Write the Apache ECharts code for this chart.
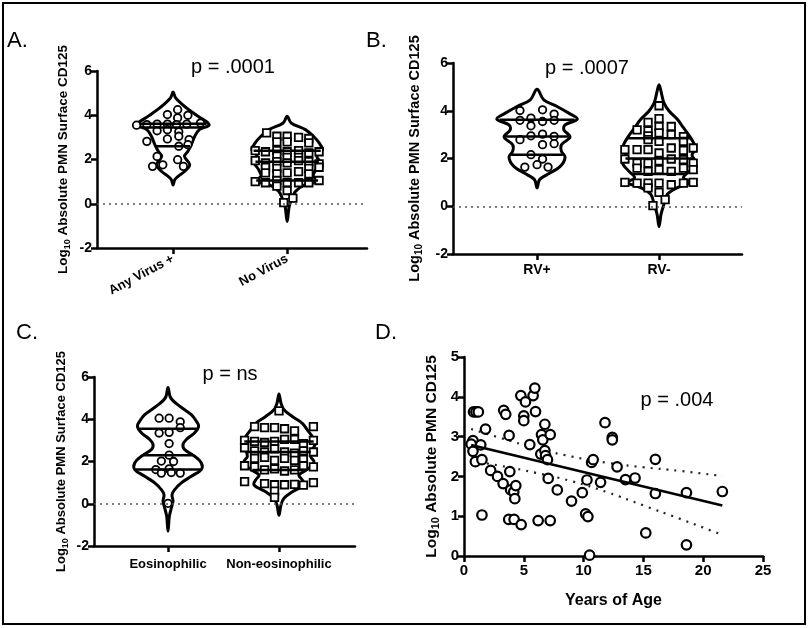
<!DOCTYPE html>
<html>
<head>
<meta charset="utf-8">
<title>PMN CD125</title>
<script src="https://cdn.jsdelivr.net/npm/echarts@6/dist/echarts.min.js"></script>
<style>
  html, body { margin: 0; padding: 0; background: #fff; }
  #main { width: 810px; height: 628px; }
</style>
</head>
<body>
<div id="main"></div>
<script>
// ---- panel A ----
var catsA = ['Any Virus +', 'No Virus'];
var anyVirusPts = [
  [-0.05,4.03],[0.04,4.25],[0.13,4.0],[0.04,3.88],
  [-0.32,3.55],[-0.23,3.58],[-0.14,3.6],[-0.05,3.6],[0.03,3.58],[0.12,3.6],[0.24,3.65],
  [-0.14,3.3],[-0.05,3.35],[0.05,3.25],
  [-0.23,2.82],[-0.05,2.93],[0.05,3.05],[0.14,2.9],
  [0.05,2.6],[0.13,2.67],
  [-0.14,2.14],[0.04,1.99],[-0.18,1.69],[-0.09,1.76],[0.09,1.69]
];
var anyVirusProfY  = [0.85,1.09,1.24,1.46,1.76,2.14,2.37,2.67,3.05,3.35,3.57,3.95,4.33,4.78,5.05];
var anyVirusProfW  = [0,0.015,0.044,0.10,0.146,0.10,0.13,0.16,0.19,0.23,0.316,0.22,0.117,0.023,0];
var anyVirusQuart  = [2.6, 3.45, 3.62];

var noVirusPts = [
  [-0.18,3.2],[-0.09,3.05],[0,3.05],[0.1,3.0],[0.19,2.95],
  [-0.09,2.8],[0,2.8],[0.19,2.75],
  [-0.28,2.4],[-0.19,2.35],[-0.09,2.4],[0,2.35],[0.1,2.4],[0.19,2.3],[0.28,2.35],
  [-0.09,2.15],[0,2.1],[0.1,2.1],
  [-0.28,1.95],[-0.19,1.85],[-0.09,1.9],[0,1.85],[0.1,1.95],[0.19,1.9],[0.28,1.8],
  [-0.19,1.65],[-0.09,1.6],[0.1,1.45],[0.19,1.6],[0.28,1.65],
  [-0.19,1.4],[-0.09,1.35],[0,1.4],[0.19,1.35],
  [-0.28,1.0],[-0.19,0.95],[-0.09,1.05],[0,0.95],[0.1,0.95],[0.19,0.95],[0.28,1.05],
  [-0.09,0.8],[0,0.6],[0.05,0.25],[-0.03,0.05]
];
var noVirusProfY = [-0.8,-0.12,0.26,0.56,0.86,1.01,1.24,1.54,1.87,2.14,2.44,2.75,3.05,3.35,3.65,3.95];
var noVirusProfW = [0,0.018,0.044,0.073,0.16,0.29,0.23,0.25,0.29,0.26,0.31,0.28,0.23,0.16,0.035,0];
var noVirusQuart = [1.05, 1.9, 2.4];

// ---- panel B ----
var catsB = ['RV+', 'RV-'];
var rvPlusPts = [
  [-0.14,4.01],[0.045,4.04],[0.14,3.86],
  [-0.14,3.6],[-0.05,3.69],[0.045,3.55],[0.14,3.6],[-0.05,3.37],
  [-0.14,2.79],[-0.05,2.95],[0.045,3.02],[0.14,2.93],[0.045,2.58],[0.14,2.62],
  [-0.05,2.16],[0.045,1.98],[-0.1,1.64],[0,1.74],[0.09,1.64]
];
var rvPlusProfY = [0.77,1.11,1.32,1.67,2.06,2.3,2.58,2.9,3.2,3.41,3.65,3.9,4.18,4.46,4.9];
var rvPlusProfW = [0,0.02,0.08,0.19,0.23,0.2,0.2,0.27,0.22,0.23,0.33,0.26,0.164,0.055,0];
var rvPlusQuart = [2.16, 2.92, 3.62];

var rvMinusPts = [
  [0,4.21],[0,3.67],[-0.09,3.51],[0.1,3.34],[-0.18,3.2],[-0.09,3.16],[0,3.34],
  [0,3.07],[0.1,3.0],[0.2,2.92],[-0.09,2.95],[-0.09,2.79],[0,2.72],[0.2,2.72],
  [-0.28,2.37],[-0.18,2.37],[-0.09,2.37],[0,2.23],[0.1,2.44],[0.2,2.34],[0.28,2.44],
  [-0.28,1.98],[-0.18,1.81],[-0.09,1.81],[0,1.9],[0.1,1.98],[0.2,1.95],[0.28,1.81],
  [-0.18,1.6],[-0.09,1.46],[0,1.53],[0.1,1.46],[0.2,1.6],[0.28,1.53],
  [-0.28,1.0],[-0.18,0.97],[-0.09,0.97],[0,0.97],[0.1,0.9],[0.2,0.97],[0.28,1.0],
  [-0.09,0.77],[0,0.58],[0.05,0.28],[-0.05,0.03]
];
var rvMinusProfY = [-0.85,-0.34,0.08,0.5,0.78,0.99,1.2,1.48,1.82,2.15,2.38,2.59,2.94,3.29,3.64,3.99,4.33,4.68,5.09];
var rvMinusProfW = [0,0.016,0.04,0.068,0.15,0.26,0.2,0.25,0.3,0.27,0.30,0.29,0.25,0.2,0.15,0.082,0.04,0.022,0];
var rvMinusQuart = [1.35, 2.0, 2.85];

// ---- panel C ----
var catsC = ['Eosinophilic', 'Non-eosinophilic'];
var eosPts = [
  [-0.08,4.05],[0.01,4.05],[0.11,3.88],
  [-0.08,3.35],[0.01,3.38],[0.11,3.6],
  [0.01,2.85],
  [0.01,2.3],[-0.06,2.02],[0.05,2.0],
  [-0.11,1.62],[0.01,1.65],[-0.06,1.45],[0.03,1.48],[0.11,1.45],
  [0,0.02]
];
var eosProfY = [-1.3,-0.59,-0.2,0.12,0.43,0.67,0.99,1.3,1.62,1.93,2.25,2.56,2.8,3.04,3.36,3.67,3.91,4.22,4.62,5.01,5.5];
var eosProfW = [0,0.012,0.03,0.045,0.036,0.06,0.12,0.21,0.30,0.30,0.24,0.15,0.135,0.165,0.24,0.276,0.255,0.21,0.105,0.024,0];
var eosQuart = [1.62, 2.3, 3.55];

var nonEosPts = [
  [0.0,4.4],
  [-0.22,3.65],[-0.13,3.6],[-0.04,3.6],[0.05,3.55],[0.14,3.45],[0.31,3.65],
  [-0.31,3.0],[-0.22,2.95],[-0.13,2.9],[-0.04,2.95],[0.05,3.05],[0.14,3.05],[0.22,2.85],[0.31,3.0],
  [-0.31,2.65],[-0.22,2.5],[-0.13,2.45],[-0.04,2.6],[0.05,2.45],[0.14,2.4],[0.22,2.5],[0.31,2.45],
  [-0.22,2.15],[-0.13,2.2],[-0.04,2.05],[0.05,2.15],[0.14,2.05],[0.22,2.1],
  [-0.31,1.8],[-0.22,1.75],[-0.13,1.6],[-0.04,1.65],[0.05,1.55],[0.14,1.6],[0.22,1.8],[0.31,1.75],
  [-0.31,1.05],[-0.13,0.95],[-0.04,0.9],[0.05,0.9],[0.14,0.92],[0.22,0.88],[0.31,1.0],
  [-0.04,0.6],[-0.04,0.3]
];
var nonEosProfY = [-0.55,-0.06,0.26,0.57,0.89,1.13,1.36,1.68,2.0,2.23,2.55,2.87,3.18,3.5,3.81,4.13,4.45,4.76,5.2];
var nonEosProfW = [0,0.018,0.045,0.12,0.225,0.21,0.18,0.27,0.315,0.285,0.3,0.33,0.3,0.255,0.21,0.12,0.045,0.018,0];
var nonEosQuart = [1.6, 2.45, 2.95];

// ---- panel D ----
var agePts = [
  [0.8,3.62],[1.0,3.62],[1.2,3.62],[1.8,3.19],
  [0.75,2.9],[0.6,2.81],[0.75,2.63],[1.4,2.79],[0.95,2.37],[1.5,2.42],[1.5,1.03],
  [2.23,2.15],[2.8,2.0],[3.27,1.82],[3.83,2.12],[3.77,3.03],[3.32,3.66],[3.49,3.56],
  [3.9,1.66],[4.16,1.61],[4.33,1.77],[4.25,1.44],[3.74,0.92],[4.19,0.92],[4.78,0.79],
  [4.75,4.03],[5.14,3.87],[5.0,3.52],[5.0,3.4],[5.5,2.8],[5.78,4.03],[5.92,4.22],[5.98,3.63],
  [6.2,0.89],[6.48,3.05],[6.59,2.92],[6.76,3.31],[6.42,2.56],[6.76,2.65],[6.82,2.52],[6.98,2.42],
  [7.04,1.95],[7.21,3.05],[7.21,0.89],[7.8,1.66],
  [8.99,1.38],[9.89,1.59],[10.17,1.06],[10.36,0.99],[10.28,1.91],[10.5,0.02],[10.67,2.35],[10.8,2.42],
  [11.42,1.85],[11.79,3.35],[12.4,2.98],[12.4,2.92],[12.8,2.24],[13.5,1.92],[14.3,1.96],
  [15.2,0.58],[16.0,2.43],[16.0,1.57],[18.6,1.59],[18.6,0.28],[21.6,1.62]
];
var fitX = [0.6, 21.6];
var fitY = [2.79, 1.27];
var ciX     = [0.6, 3, 6, 9, 12, 15, 18, 21.6];
var ciUpper = [3.19, 2.97, 2.71, 2.50, 2.34, 2.23, 2.14, 2.01];
var ciLower = [2.39, 2.27, 2.09, 1.88, 1.60, 1.27, 0.94, 0.53];

var FONT = '"Liberation Sans", Arial, Helvetica, sans-serif';

function interp(ys, ws, v) {
  for (var i = 1; i < ys.length; i++) {
    if (v <= ys[i]) {
      var t = (v - ys[i - 1]) / (ys[i] - ys[i - 1]);
      return ws[i - 1] + t * (ws[i] - ws[i - 1]);
    }
  }
  return 0;
}

function violinSeries(gi, violins) {
  return {
    type: 'custom', xAxisIndex: gi, yAxisIndex: gi, z: 2, silent: true,
    data: violins.map(function (v) { return [v.pos, 0]; }),
    renderItem: function (params, api) {
      var v = violins[params.dataIndex];
      var pts = [];
      var n = v.y.length;
      for (var i = 0; i < n; i++) pts.push(api.coord([v.pos + v.w[i], v.y[i]]));
      for (var j = n - 2; j >= 1; j--) pts.push(api.coord([v.pos - v.w[j], v.y[j]]));
      return {
        type: 'polygon',
        shape: { points: pts, smooth: 0.35 },
        style: { fill: '#fff', stroke: '#000', lineWidth: 3 }
      };
    }
  };
}

function quartSeries(gi, violins) {
  return {
    type: 'custom', xAxisIndex: gi, yAxisIndex: gi, z: 5, silent: true,
    data: violins.map(function (v) { return [v.pos, 0]; }),
    renderItem: function (params, api) {
      var v = violins[params.dataIndex];
      var children = v.q.map(function (q) {
        var w = interp(v.y, v.w, q) * 0.97;
        var a = api.coord([v.pos - w, q]);
        var b = api.coord([v.pos + w, q]);
        return { type: 'line', shape: { x1: a[0], y1: a[1], x2: b[0], y2: b[1] },
                 style: { stroke: '#000', lineWidth: 2.5 } };
      });
      return { type: 'group', children: children };
    }
  };
}

function dotSeries(gi, pos, pts, symbol) {
  return {
    type: 'scatter', xAxisIndex: gi, yAxisIndex: gi, z: 4, silent: true,
    symbol: symbol, symbolSize: 7.5,
    itemStyle: { color: '#fff', borderColor: '#000', borderWidth: 1.8, opacity: 1 },
    data: pts.map(function (p) { return [pos + p[0], p[1]]; })
  };
}

function zeroLine(gi) {
  return {
    type: 'line', xAxisIndex: gi, yAxisIndex: gi, z: 1, silent: true, data: [],
    markLine: {
      silent: true, symbol: 'none', label: { show: false },
      lineStyle: { type: [2, 4], color: '#555', width: 1.5 },
      data: [{ yAxis: 0 }]
    }
  };
}

var lbl = { color: '#000', fontWeight: 'bold', fontFamily: FONT };

function catXAxis(gi, min, max, names, rotate, margin, size) {
  return {
    type: 'value', gridIndex: gi, min: min, max: max, splitLine: { show: false },
    axisLine: { onZero: false, lineStyle: { color: '#000', width: 2.5 } },
    axisTick: { show: true, customValues: [1, 2], length: 6, lineStyle: { color: '#000', width: 2.5 } },
    axisLabel: Object.assign({}, lbl, {
      customValues: [1, 2], rotate: rotate, margin: margin, fontSize: size,
      formatter: function (v) { return names[Math.round(v) - 1]; }
    })
  };
}

function logName(rest, size, gap) {
  return {
    name: '{a|Log}{s|10}{a| ' + rest + '}',
    nameLocation: 'middle', nameRotate: 90, nameGap: gap,
    nameTextStyle: {
      rich: {
        a: { fontSize: size, fontWeight: 'bold', fontFamily: FONT, color: '#000', lineHeight: size + 4 },
        s: { fontSize: Math.round(size * 0.68), fontWeight: 'bold', fontFamily: FONT, color: '#000',
             verticalAlign: 'bottom', lineHeight: size * 0.75 }
      }
    }
  };
}

function violinYAxis(gi, size, gap) {
  return Object.assign({
    type: 'value', gridIndex: gi, min: -2, max: 6, interval: 2, splitLine: { show: false },
    axisLine: { show: true, onZero: false, lineStyle: { color: '#000', width: 2.5 } },
    axisTick: { show: true, length: 6, lineStyle: { color: '#000', width: 2.5 } },
    axisLabel: Object.assign({}, lbl, { fontSize: 14, margin: 5 })
  }, logName('Absolute PMN Surface CD125', size, gap));
}

var vA = [
  { pos: 1, y: anyVirusProfY, w: anyVirusProfW, q: anyVirusQuart },
  { pos: 2, y: noVirusProfY, w: noVirusProfW, q: noVirusQuart }
];
var vB = [
  { pos: 1, y: rvPlusProfY, w: rvPlusProfW, q: rvPlusQuart },
  { pos: 2, y: rvMinusProfY, w: rvMinusProfW, q: rvMinusQuart }
];
var vC = [
  { pos: 1, y: eosProfY, w: eosProfW, q: eosQuart },
  { pos: 2, y: nonEosProfY, w: nonEosProfW, q: nonEosQuart }
];

function txt(x, y, text, size, align) {
  return { type: 'text', x: x, y: y, silent: true,
    style: { text: text, font: size + 'px ' + FONT, fill: '#000', align: align || 'center', verticalAlign: 'middle' } };
}

var chart = echarts.init(document.getElementById('main'));
chart.setOption({
  animation: false,
  backgroundColor: '#fff',
  grid: [
    { left: 97, top: 71, width: 270, height: 177 },
    { left: 453, top: 63, width: 289, height: 191 },
    { left: 94, top: 377, width: 261, height: 169 },
    { left: 464, top: 357, width: 299, height: 199 }
  ],
  xAxis: [
    catXAxis(0, 0.333, 2.70, catsA, 28, 10, 13),
    catXAxis(1, 0.311, 2.68, catsB, 0, 9, 14),
    catXAxis(2, 0.333, 2.685, catsC, 0, 12, 13),
    {
      type: 'value', gridIndex: 3, min: 0, max: 25, interval: 5, splitLine: { show: false },
      name: 'Years of Age', nameLocation: 'middle', nameGap: 37,
      nameTextStyle: Object.assign({}, lbl, { fontSize: 16 }),
      axisLine: { onZero: false, lineStyle: { color: '#000', width: 2.5 } },
      axisTick: { length: 6, lineStyle: { color: '#000', width: 2.5 } },
      axisLabel: Object.assign({}, lbl, { fontSize: 15, margin: 7 })
    }
  ],
  yAxis: [
    violinYAxis(0, 13.5, 25),
    violinYAxis(1, 14.5, 29),
    violinYAxis(2, 13, 24),
    Object.assign({
      type: 'value', gridIndex: 3, min: 0, max: 5, interval: 1, splitLine: { show: false },
      axisLine: { show: true, onZero: false, lineStyle: { color: '#000', width: 2.5 } },
      axisTick: { show: true, length: 6, lineStyle: { color: '#000', width: 2.5 } },
      axisLabel: Object.assign({}, lbl, { fontSize: 15, margin: 5 })
    }, logName('Absolute PMN CD125', 15.5, 23))
  ],
  series: [
    zeroLine(0), violinSeries(0, vA),
    dotSeries(0, 1, anyVirusPts, 'circle'), dotSeries(0, 2, noVirusPts, 'rect'),
    quartSeries(0, vA),

    zeroLine(1), violinSeries(1, vB),
    dotSeries(1, 1, rvPlusPts, 'circle'), dotSeries(1, 2, rvMinusPts, 'rect'),
    quartSeries(1, vB),

    zeroLine(2), violinSeries(2, vC),
    dotSeries(2, 1, eosPts, 'circle'), dotSeries(2, 2, nonEosPts, 'rect'),
    quartSeries(2, vC),

    {
      type: 'scatter', xAxisIndex: 3, yAxisIndex: 3, z: 4, silent: true,
      symbol: 'circle', symbolSize: 9.5,
      itemStyle: { color: '#fff', borderColor: '#000', borderWidth: 2.2, opacity: 1 },
      data: agePts
    },
    {
      type: 'line', xAxisIndex: 3, yAxisIndex: 3, z: 5, silent: true, symbol: 'none',
      lineStyle: { color: '#000', width: 2.5 },
      data: fitX.map(function (x, i) { return [x, fitY[i]]; })
    },
    {
      type: 'line', xAxisIndex: 3, yAxisIndex: 3, z: 3, silent: true, symbol: 'none', smooth: true,
      lineStyle: { color: '#222', width: 2.2, type: [2, 6] },
      data: ciX.map(function (x, i) { return [x, ciUpper[i]]; })
    },
    {
      type: 'line', xAxisIndex: 3, yAxisIndex: 3, z: 3, silent: true, symbol: 'none', smooth: true,
      lineStyle: { color: '#222', width: 2.2, type: [2, 6] },
      data: ciX.map(function (x, i) { return [x, ciLower[i]]; })
    }
  ],
  graphic: [
    { type: 'rect', silent: true, shape: { x: 3, y: 3, width: 802, height: 621 },
      style: { fill: 'none', stroke: '#000', lineWidth: 2 } },
    txt(7, 41, 'A.', 22, 'left'),
    txt(366, 41, 'B.', 22, 'left'),
    txt(16, 333, 'C.', 22, 'left'),
    txt(375, 333, 'D.', 22, 'left'),
    txt(233, 67, 'p = .0001', 20),
    txt(587, 68, 'p = .0007', 20),
    txt(230, 374, 'p = ns', 20),
    txt(677, 400, 'p = .004', 20)
  ]
});
</script>
</body>
</html>
